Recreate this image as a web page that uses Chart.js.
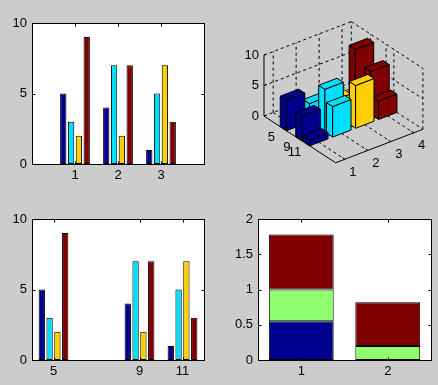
<!DOCTYPE html>
<html>
<head>
<meta charset="utf-8">
<script src="https://cdn.jsdelivr.net/npm/chart.js@4.4.0/dist/chart.umd.min.js"></script>
<style>
  body { margin: 0; background: #cccccc; width: 438px; height: 385px; overflow: hidden; position: relative; }
  canvas { position: absolute; }
</style>
</head>
<body>
<canvas id="grouped" width="219" height="192" style="left:0;top:0"></canvas>
<canvas id="bars3d" width="219" height="192" style="left:219px;top:0"></canvas>
<canvas id="groupedX" width="219" height="193" style="left:0;top:192px"></canvas>
<canvas id="stacked" width="219" height="193" style="left:219px;top:192px"></canvas>
<script>
// data
const groups = [1, 2, 3];
const groupsX = [5, 9, 11];
const series1 = [5, 4, 1];
const series2 = [3, 7, 5];
const series3 = [2, 2, 7];
const series4 = [9, 7, 3];
const yTicks10 = [0, 5, 10];

const stackX = [1, 2];
const stackA = [0.55, 0];
const stackB = [0.45, 0.2];
const stackC = [0.78, 0.62];
const yTicks2 = [0, 0.5, 1, 1.5, 2];

const cols3d = [1, 2, 3, 4];
const rows3d = [5, 9, 11];
const zTicks3d = [0, 5, 10];

const jet4 = ['#00008f', '#00dfff', '#ffcf00', '#800000'];
const jet3 = ['#00008f', '#8fff70', '#800000'];

Chart.defaults.font.family = 'Liberation Sans, Arial, sans-serif';
Chart.defaults.font.size = 13;
Chart.defaults.color = '#000';
Chart.defaults.animation = false;
Chart.defaults.plugins.legend.display = false;
Chart.defaults.plugins.tooltip.enabled = false;

// white axes background, box and inward ticks like matlab
const boxPlugin = {
    id: 'matlabBox',
    beforeDraw(chart) {
        const a = chart.chartArea, ctx = chart.ctx;
        ctx.save();
        ctx.fillStyle = '#fff';
        ctx.fillRect(a.left, a.top, a.right - a.left, a.bottom - a.top);
        ctx.restore();
    },
    afterDraw(chart) {
        const a = chart.chartArea, ctx = chart.ctx;
        const l = Math.round(a.left) + 0.5, r = Math.round(a.right) + 0.5;
        const t = Math.round(a.top) + 0.5, b = Math.round(a.bottom) + 0.5;
        const len = 3;
        ctx.save();
        ctx.strokeStyle = '#000';
        ctx.lineWidth = 1;
        ctx.strokeRect(l, t, r - l, b - t);
        ctx.beginPath();
        chart.scales.x.ticks.forEach(tk => {
            const px = Math.round(chart.scales.x.getPixelForValue(tk.value)) + 0.5;
            ctx.moveTo(px, b); ctx.lineTo(px, b - len);
            ctx.moveTo(px, t); ctx.lineTo(px, t + len);
        });
        chart.scales.y.ticks.forEach(tk => {
            const py = Math.round(chart.scales.y.getPixelForValue(tk.value)) + 0.5;
            ctx.moveTo(l, py); ctx.lineTo(l + len, py);
            ctx.moveTo(r, py); ctx.lineTo(r - len, py);
        });
        ctx.stroke();
        ctx.restore();
    }
};

function flatScales(xTicks, xMin, xMax, yTicks, yMin, yMax, yW, xH, stacked) {
    return {
        x: {
            type: 'linear', min: xMin, max: xMax, offset: false, stacked: stacked,
            grid: {display: false, drawTicks: false}, border: {display: false},
            ticks: {padding: 4, maxRotation: 0, autoSkip: false, callback: v => String(v)},
            afterBuildTicks: s => { s.ticks = xTicks.map(v => ({value: v})); },
            afterFit: s => { s.height = xH; }
        },
        y: {
            type: 'linear', min: yMin, max: yMax, stacked: stacked,
            grid: {display: false, drawTicks: false}, border: {display: false},
            ticks: {padding: 5, autoSkip: false, callback: v => String(v)},
            afterBuildTicks: s => { s.ticks = yTicks.map(v => ({value: v})); },
            afterFit: s => { s.width = yW; }
        }
    };
}

function barSet(xs, vals, color) {
    return {
        data: xs.map((x, i) => ({x: x, y: vals[i]})),
        backgroundColor: color,
        borderColor: '#000',
        borderWidth: 1,
        borderSkipped: false,
        categoryPercentage: 0.727,
        barPercentage: 0.81
    };
}

const allSeries = [series1, series2, series3, series4];

new Chart(document.getElementById('grouped'), {
    type: 'bar',
    data: {datasets: allSeries.map((s, i) => barSet(groups, s, jet4[i]))},
    options: {
        responsive: false,
        layout: {padding: {top: 23, right: 15, left: 0, bottom: 0}},
        scales: flatScales(groups, 0, 4, yTicks10, 0, 10, 32, 28, false)
    },
    plugins: [boxPlugin]
});

new Chart(document.getElementById('groupedX'), {
    type: 'bar',
    data: {datasets: allSeries.map((s, i) => barSet(groupsX, s, jet4[i]))},
    options: {
        responsive: false,
        layout: {padding: {top: 27, right: 15, left: 0, bottom: 0}},
        scales: flatScales(groupsX, 4, 12, yTicks10, 0, 10, 32, 25, false)
    },
    plugins: [boxPlugin]
});

const stackSets = [stackA, stackB, stackC].map((s, i) => {
    const d = barSet(stackX, s, jet3[i]);
    d.categoryPercentage = 1;
    d.barPercentage = 0.75;
    return d;
});

new Chart(document.getElementById('stacked'), {
    type: 'bar',
    data: {datasets: stackSets},
    options: {
        responsive: false,
        layout: {padding: {top: 27, right: 7, left: 0, bottom: 0}},
        scales: flatScales(stackX, 0.5, 2.5, yTicks2, 0, 2, 39, 25, true)
    },
    plugins: [boxPlugin]
});

// 3d bars, matlab default view
const view = {az: -37.5, el: 30};
const xLim3d = [0.6, 4.4];
const yLim3d = [0, 18.5];
const zLim3d = [0, 10];
const aspect3d = [1, 1.07, 0.64];

function project(chart, x, y, z) {
    const a = view.az * Math.PI / 180, e = view.el * Math.PI / 180;
    const cx = (x - xLim3d[0]) / (xLim3d[1] - xLim3d[0]) * aspect3d[0];
    const cy = (y - yLim3d[0]) / (yLim3d[1] - yLim3d[0]) * aspect3d[1];
    const cz = (z - zLim3d[0]) / (zLim3d[1] - zLim3d[0]) * aspect3d[2];
    const u = cx * Math.cos(a) - cy * Math.sin(a);
    const v = -cx * Math.sin(a) * Math.sin(e) - cy * Math.cos(a) * Math.sin(e) + cz * Math.cos(e);
    return [chart.scales.x.getPixelForValue(u), chart.scales.y.getPixelForValue(v)];
}

const bars3dPlugin = {
    id: 'bars3d',
    afterDraw(chart) {
        const ctx = chart.ctx;
        const P = (x, y, z) => project(chart, x, y, z);
        const [x0, x1] = xLim3d, [y0, y1] = yLim3d, [z0, z1] = zLim3d;
        const line = (p, q) => { ctx.moveTo(p[0], p[1]); ctx.lineTo(q[0], q[1]); };

        ctx.save();
        ctx.strokeStyle = '#000';
        ctx.lineWidth = 1;

        // dashed grid on back walls and floor
        ctx.setLineDash([3, 3]);
        ctx.beginPath();
        cols3d.forEach(x => {
            line(P(x, y0, z0), P(x, y0, z1));
            line(P(x, y0, z0), P(x, y1, z0));
        });
        rows3d.forEach(y => {
            line(P(x1, y, z0), P(x1, y, z1));
            line(P(x0, y, z0), P(x1, y, z0));
        });
        zTicks3d.forEach(z => {
            line(P(x0, y0, z), P(x1, y0, z));
            line(P(x1, y0, z), P(x1, y1, z));
        });
        line(P(x1, y0, z0), P(x1, y0, z1));
        line(P(x1, y1, z0), P(x1, y1, z1));
        ctx.stroke();
        ctx.setLineDash([]);

        // bars, back to front
        const boxes = [];
        rows3d.forEach((y, yi) => {
            cols3d.forEach((x, xi) => {
                boxes.push({x: x, y: y, h: allSeries[xi][yi], c: jet4[xi], key: yi - xi});
            });
        });
        boxes.sort((p, q) => p.key - q.key);
        const hw = 0.4, hd = 0.8;
        boxes.forEach(bx => {
            const a0 = bx.x - hw, a1 = bx.x + hw, b0 = bx.y - hd, b1 = bx.y + hd, h = bx.h;
            const faces = [
                [[a0, b0, 0], [a0, b1, 0], [a0, b1, h], [a0, b0, h]],
                [[a0, b1, 0], [a1, b1, 0], [a1, b1, h], [a0, b1, h]],
                [[a0, b0, h], [a1, b0, h], [a1, b1, h], [a0, b1, h]]
            ];
            faces.forEach(f => {
                ctx.beginPath();
                f.forEach((pt, i) => {
                    const p = P(pt[0], pt[1], pt[2]);
                    if (i === 0) ctx.moveTo(p[0], p[1]); else ctx.lineTo(p[0], p[1]);
                });
                ctx.closePath();
                ctx.fillStyle = bx.c;
                ctx.fill();
                ctx.stroke();
            });
        });

        // solid axis lines and ticks
        ctx.beginPath();
        line(P(x0, y0, z0), P(x0, y1, z0));
        line(P(x0, y1, z0), P(x1, y1, z0));
        line(P(x0, y0, z0), P(x0, y0, z1));
        zTicks3d.forEach(z => line(P(x0, y0, z), P(x0 + 0.12, y0, z)));
        cols3d.forEach(x => line(P(x, y1, z0), P(x, y1 - 0.6, z0)));
        rows3d.forEach(y => line(P(x0, y, z0), P(x0 + 0.12, y, z0)));
        ctx.stroke();

        // tick labels
        ctx.fillStyle = '#000';
        ctx.font = '13px Liberation Sans, Arial, sans-serif';
        ctx.textBaseline = 'middle';
        ctx.textAlign = 'right';
        zTicks3d.forEach(z => {
            const p = P(x0, y0, z);
            ctx.fillText(String(z), p[0] - 5, p[1]);
        });
        ctx.textAlign = 'center';
        cols3d.forEach(x => {
            const p = P(x, y1, z0);
            ctx.fillText(String(x), p[0] + 8, p[1] + 13);
        });
        rows3d.forEach(y => {
            const p = P(x0, y, z0);
            ctx.fillText(String(y), p[0] - 12, p[1] + 9);
        });
        ctx.restore();
    }
};

new Chart(document.getElementById('bars3d'), {
    type: 'scatter',
    data: {datasets: [{data: []}]},
    options: {
        responsive: false,
        layout: {padding: 0},
        scales: {
            x: {type: 'linear', display: false, min: -0.409, max: 1.582},
            y: {type: 'linear', display: false, min: -0.690, max: 1.055}
        }
    },
    plugins: [bars3dPlugin]
});
</script>
</body>
</html>
